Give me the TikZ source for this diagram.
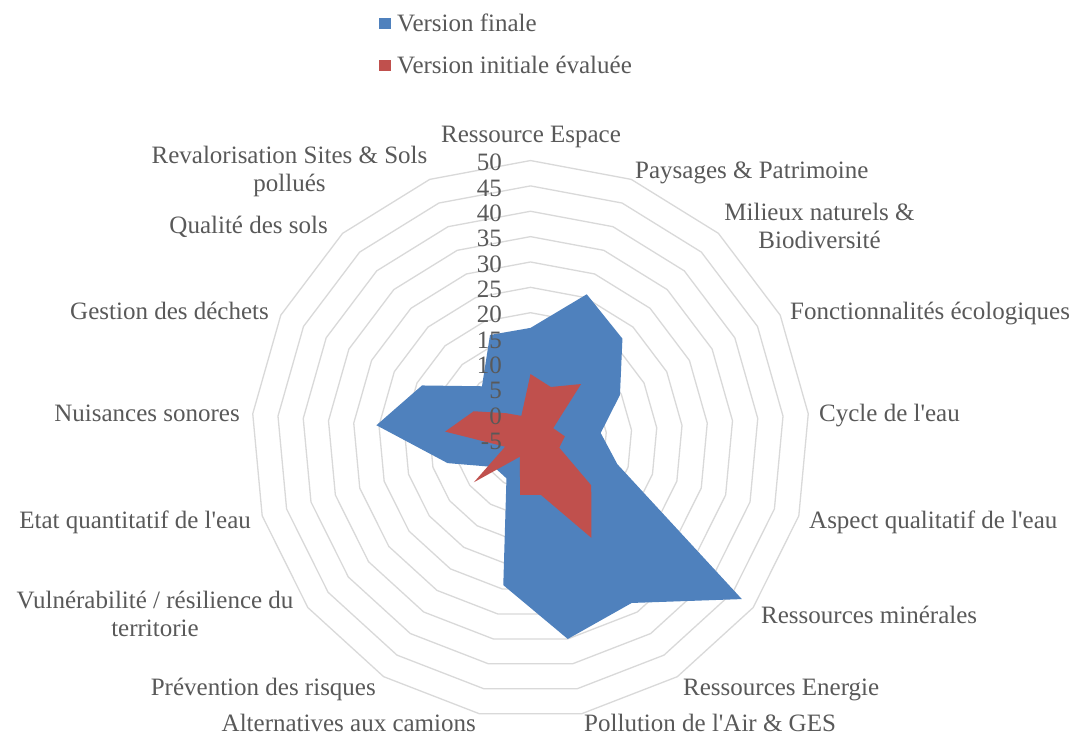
\documentclass[tikz,border=0pt]{standalone}
\usepackage{fontspec}
\setmainfont{Liberation Serif}[Ligatures=TeXOff]
\definecolor{finalblue}{HTML}{4F81BD}
\definecolor{initred}{HTML}{C0504D}
\definecolor{gridgray}{HTML}{D9D9D9}
\definecolor{txtgray}{HTML}{595959}
\begin{document}
\begin{tikzpicture}[x=1pt,y=-1pt,
  lbl/.style={text=txtgray,font=\fontsize{25}{28}\selectfont,inner sep=0pt,align=center},
  scalelbl/.style={text=txtgray,font=\fontsize{25}{28}\selectfont,inner sep=0pt,anchor=east},
  gridline/.style={draw=gridgray,line width=1.3pt,line join=round},
  legbox/.style={minimum width=12pt,minimum height=11pt,inner sep=0pt}]
\useasboundingbox[fill=white] (0,0) rectangle (1077,736);
% legend
\node[legbox,fill=finalblue,anchor=north west] (lgb) at (379,18) {};
\node[lbl,anchor=base west] (lgbt) at (397,31.5) {Version finale};
\node[legbox,fill=initred,anchor=north west] (lgr) at (379,60) {};
\node[lbl,anchor=base west] (lgrt) at (397,73.7) {Version initiale évaluée};
\begin{scope}[shift={(530.5,439.5)}]
  % grid rings
  \foreach \j in {1,...,11}
    \draw[gridline] (90:{25.36*\j*1pt}) \foreach \k in {1,...,16} {-- ({90-\k*360/17}:{25.36*\j*1pt})} -- cycle;
  % data points
  \foreach \v [count=\i from 0] in {17,25.7,21.9,14.7,8.9,12.8,47.2,32.9,35,24.2,4,4,12,25.5,18.9,9.2,17.1}
    \coordinate (b\i) at ({90-\i*360/17}:{(\v+5)*5.073pt});
  \foreach \v [count=\i from 0] in {7.9,6.1,9.8,0,1.8,0.9,10,17.8,6.1,6.1,-1,9,0.2,11.9,7.5,2,0}
    \coordinate (r\i) at ({90-\i*360/17}:{(\v+5)*5.073pt});
  \fill[finalblue] (b0) \foreach \i in {1,...,16} {-- (b\i)} -- cycle;
  \fill[initred] (r0) \foreach \i in {1,...,16} {-- (r\i)} -- cycle;
\end{scope}
% scale labels
\foreach \j [evaluate=\j as \val using int(5*\j-5)] in {0,...,11}
  \node[scalelbl] (s\j) at (502,{439.5-25.36*\j+2}) {\val};
% category labels
\node[lbl,anchor=base] (c0) at (531,142.5) {Ressource Espace};
\node[lbl,anchor=base west] (c1) at (635,178) {Paysages \& Patrimoine};
\node[lbl,anchor=base] (c2) at (819.5,248) {Milieux naturels \&\\Biodiversité};
\node[lbl,anchor=base west] (c3) at (790,319) {Fonctionnalités écologiques};
\node[lbl,anchor=base west] (c4) at (819,421) {Cycle de l'eau};
\node[lbl,anchor=base west] (c5) at (809,528) {Aspect qualitatif de l'eau};
\node[lbl,anchor=base west] (c6) at (761,623) {Ressources minérales};
\node[lbl,anchor=base west] (c7) at (683,695) {Ressources Energie};
\node[lbl,anchor=base west] (c8) at (584,731) {Pollution de l'Air \& GES};
\node[lbl,anchor=base east] (c9) at (476,731) {Alternatives aux camions};
\node[lbl,anchor=base east] (c10) at (376,695) {Prévention des risques};
\node[lbl,anchor=base] (c11) at (155,636) {Vulnérabilité / résilience du\\territorie};
\node[lbl,anchor=base east] (c12) at (251,528) {Etat quantitatif de l'eau};
\node[lbl,anchor=base east] (c13) at (240,421) {Nuisances sonores};
\node[lbl,anchor=base east] (c14) at (269,319) {Gestion des déchets};
\node[lbl,anchor=base east] (c15) at (328,233) {Qualité des sols};
\node[lbl,anchor=base] (c16) at (289.5,191) {Revalorisation Sites \& Sols\\pollués};
\end{tikzpicture}
\end{document}
